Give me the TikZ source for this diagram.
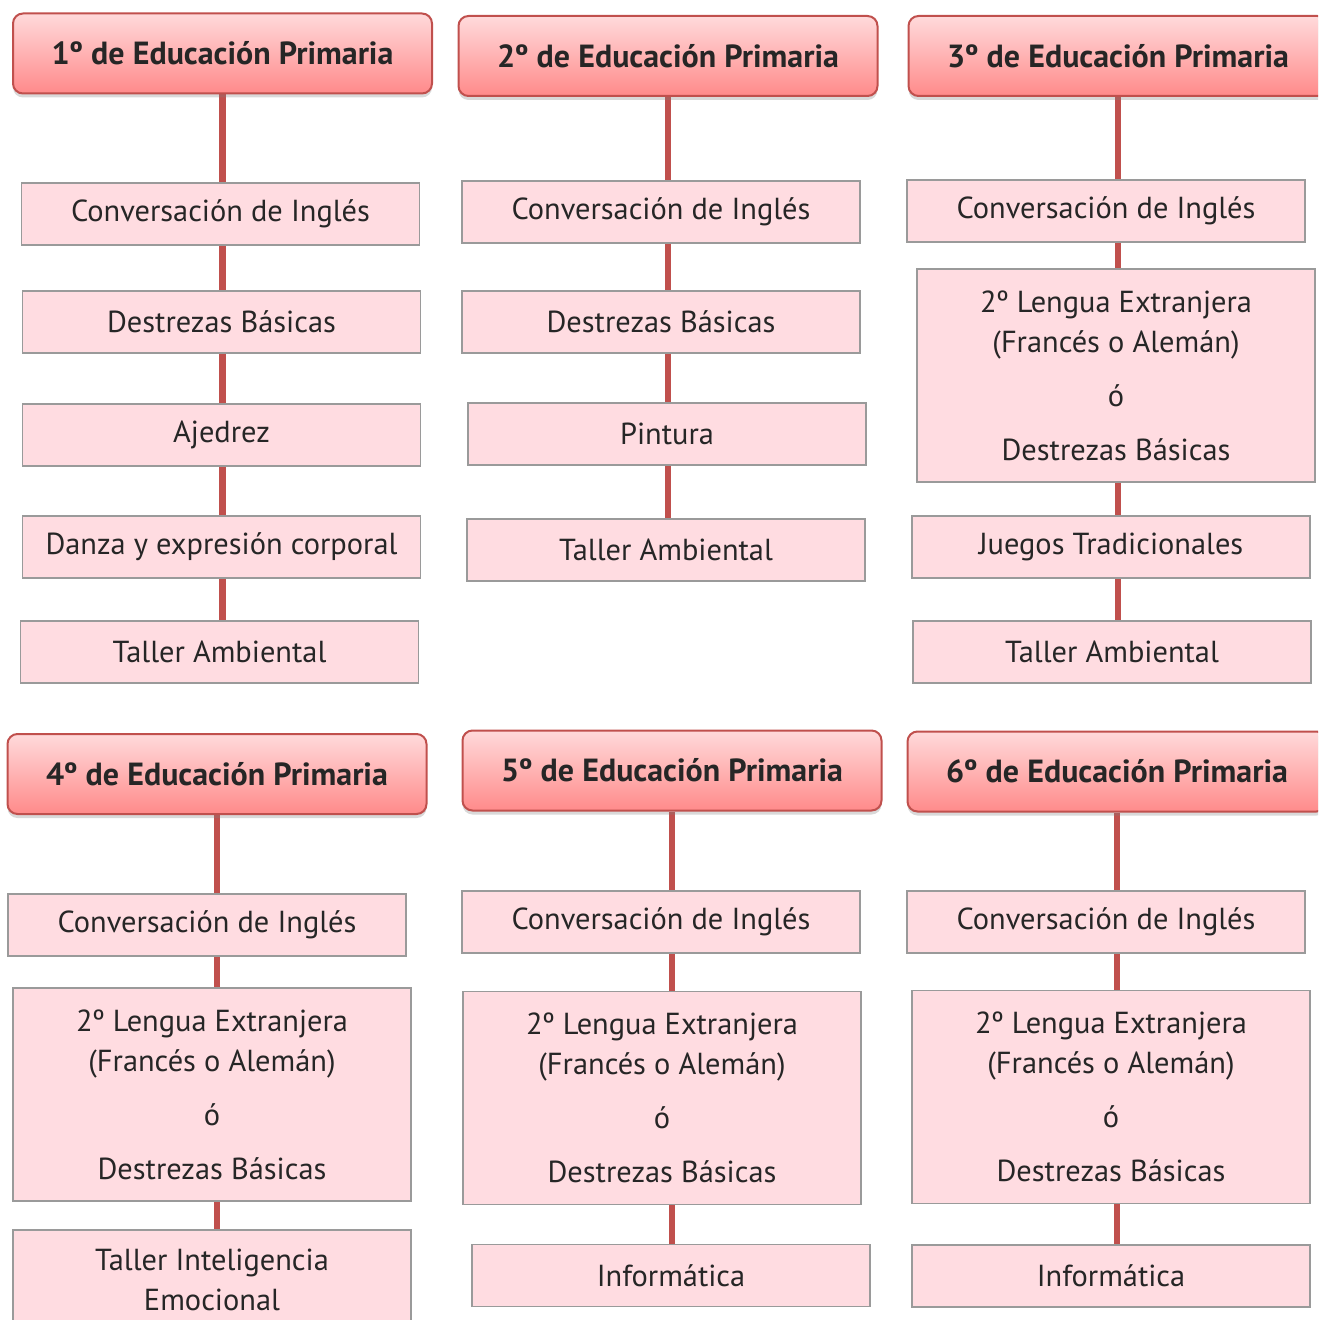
\documentclass[tikz,border=0pt]{standalone}
\usepackage{fontspec}
\setmainfont{PT Sans}
\usetikzlibrary{shadows,backgrounds}
\definecolor{linea}{HTML}{C0504D}
\definecolor{rosa}{HTML}{FFDCE1}
\definecolor{borde}{HTML}{9A9A9A}
\definecolor{arriba}{HTML}{FFDADB}
\definecolor{abajo}{HTML}{FF8A8A}
\definecolor{texto}{HTML}{262626}

\begin{document}
\begin{tikzpicture}[x=0.5pt, y=-0.5pt,
    curso/.style={draw=linea, line width=1pt, rounded corners=5pt, top color=arriba, bottom color=abajo,
      minimum width=209.5pt, minimum height=40pt, inner sep=0pt, text=texto,
      font=\fontsize{16}{18}\selectfont\bfseries,
      drop shadow={opacity=0.3, shadow xshift=0pt, shadow yshift=-2pt}},
    materia/.style={draw=borde, line width=0.7pt, fill=rosa, minimum width=199pt, minimum height=31pt,
      inner sep=0pt, align=center, text=texto, font=\fontsize{15.2}{20}\selectfont},
    doble/.style={materia, minimum height=106.5pt},
    enlace/.style={linea, line width=3.2pt}]
  \useasboundingbox (0,0) rectangle (1318,1320);
  \clip (0,0) rectangle (1318,1320);

  % primero
  \node [curso] (h1) at (222.5,53.5) {1º de Educación Primaria};
  \node [materia] (c1) at (220.5,214) {Conversación de Inglés};
  \node [materia] (d1) at (221.5,322) {Destrezas Básicas};
  \node [materia] (a1) at (221.5,435) {Ajedrez};
  \node [materia] (z1) at (221.5,547) {Danza y expresión corporal};
  \node [materia] (t1) at (219.5,652) {Taller Ambiental};

  % segundo
  \node [curso] (h2) at (668,56) {2º de Educación Primaria};
  \node [materia] (c2) at (661,212) {Conversación de Inglés};
  \node [materia] (d2) at (661,322) {Destrezas Básicas};
  \node [materia] (p2) at (667,434) {Pintura};
  \node [materia] (t2) at (666,550) {Taller Ambiental};

  % tercero
  \node [curso] (h3) at (1118,56) {3º de Educación Primaria};
  \node [materia] (c3) at (1106,211) {Conversación de Inglés};
  \node [doble] (l3) at (1116,375.5) {2º Lengua Extranjera\\(Francés o Alemán)\\[7pt]ó\\[7pt]Destrezas Básicas};
  \node [materia] (j3) at (1111,547) {Juegos Tradicionales};
  \node [materia] (t3) at (1112,652) {Taller Ambiental};

  % cuarto
  \node [curso] (h4) at (217,774) {4º de Educación Primaria};
  \node [materia] (c4) at (207,925) {Conversación de Inglés};
  \node [doble] (l4) at (212,1094.5) {2º Lengua Extranjera\\(Francés o Alemán)\\[7pt]ó\\[7pt]Destrezas Básicas};
  \node [materia, minimum height=50pt] (e4) at (212,1280) {Taller Inteligencia\\Emocional};

  % quinto
  \node [curso] (h5) at (672,770.5) {5º de Educación Primaria};
  \node [materia] (c5) at (661,922) {Conversación de Inglés};
  \node [doble] (l5) at (662,1098) {2º Lengua Extranjera\\(Francés o Alemán)\\[7pt]ó\\[7pt]Destrezas Básicas};
  \node [materia] (i5) at (671,1275.5) {Informática};

  % sexto
  \node [curso] (h6) at (1117,771.5) {6º de Educación Primaria};
  \node [materia] (c6) at (1106,922) {Conversación de Inglés};
  \node [doble] (l6) at (1111,1097) {2º Lengua Extranjera\\(Francés o Alemán)\\[7pt]ó\\[7pt]Destrezas Básicas};
  \node [materia] (i6) at (1111,1276) {Informática};

  \begin{scope}[on background layer]
    \draw [enlace] (h1) -- (h1 |- t1);
    \draw [enlace] (h2) -- (h2 |- t2);
    \draw [enlace] (h3) -- (h3 |- t3);
    \draw [enlace] (h4) -- (h4 |- e4);
    \draw [enlace] (h5) -- (h5 |- i5);
    \draw [enlace] (h6) -- (h6 |- i6);
  \end{scope}
\end{tikzpicture}
\end{document}
